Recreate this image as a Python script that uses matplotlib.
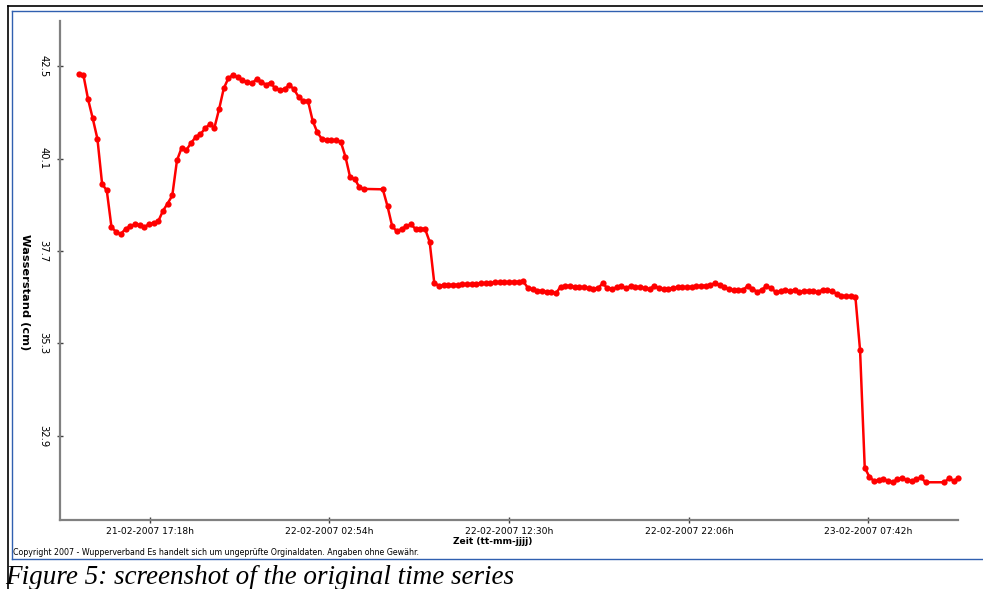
import numpy as np
import pandas as pd
import matplotlib
matplotlib.use("Agg")
import matplotlib.pyplot as plt
from matplotlib.lines import Line2D
from datetime import datetime

# ---------------- data ----------------
start_time = "2007-02-21 13:30"
step = "15min"
nan = np.nan
seg_a = [42.29, 42.27, 41.64, 41.14, 40.61, 39.44, 39.27, 38.32, 38.19, 38.14,
         38.27, 38.34, 38.39, 38.37, 38.32, 38.39, 38.43, 38.47, 38.74, 38.93,
         39.14, 40.05, 40.38, 40.32, 40.50, 40.66, 40.73, 40.88, 40.99, 40.90,
         41.38, 41.92, 42.19, 42.27, 42.21, 42.14, 42.08, 42.05, 42.16, 42.09,
         42.02, 42.07, 41.92, 41.89, 41.90, 42.01, 41.90, 41.70, 41.59, 41.60,
         41.08, 40.78, 40.60, 40.59, 40.58, 40.57, 40.54, 40.15, 39.62, 39.57,
         39.35, 39.31]
gap_1 = [nan, nan, nan]
seg_b = [39.30, 38.86, 38.34, 38.21, 38.27, 38.34, 38.39, 38.27, 38.27, 38.28, 37.94]
seg_c = [36.86, 36.80, 36.81, 36.81, 36.82, 36.82, 36.83, 36.84, 36.84, 36.85,
         36.86, 36.86, 36.87, 36.88, 36.88, 36.89, 36.89, 36.90, 36.90, 36.91]
seg_d = [36.74, 36.70, 36.67, 36.66, 36.64, 36.63, 36.60, 36.77, 36.79, 36.79,
         36.77, 36.76, 36.75, 36.73, 36.72, 36.73, 36.86, 36.73, 36.72, 36.75,
         36.79, 36.73, 36.79, 36.77, 36.75, 36.74, 36.70, 36.80, 36.73, 36.71,
         36.72, 36.74, 36.75, 36.75, 36.76, 36.77, 36.78, 36.79, 36.80, 36.82,
         36.86, 36.81, 36.75, 36.71, 36.68, 36.68, 36.69, 36.79, 36.71, 36.64,
         36.69, 36.79, 36.73, 36.63, 36.65, 36.69, 36.65, 36.69, 36.63, 36.66,
         36.66, 36.65, 36.63, 36.69, 36.68, 36.65, 36.59, 36.54, 36.52, 36.52,
         36.51]
seg_e = [35.12, 32.07, 31.83, 31.72, 31.75, 31.78, 31.72, 31.69, 31.77, 31.80,
         31.75, 31.72, 31.77, 31.82, 31.69]
gap_2 = [nan, nan, nan]
seg_f = [31.69, 31.79, 31.73, 31.79]

values = seg_a + gap_1 + seg_b + seg_c + seg_d + seg_e + gap_2 + seg_f

y_ticks = [42.5, 40.1, 37.7, 35.3, 32.9]
y_ticklabels = ["42.5", "40.1", "37.7", "35.3", "32.9"]
x_ticklabels = ["21-02-2007 17:18h", "22-02-2007 02:54h", "22-02-2007 12:30h",
                "22-02-2007 22:06h", "23-02-2007 07:42h"]
x_range = ["2007-02-21 12:30", "2007-02-23 12:29"]
y_range = [30.71, 43.68]

# ---------------- figure ----------------
W, H = 983, 589
fig = plt.figure(figsize=(W / 100, H / 100), dpi=100)
fig.patch.set_facecolor("white")

def fx(px):
    return px / W

def fy(py):
    return 1 - py / H

ax = fig.add_axes([fx(60), fy(520), fx(958) - fx(60), fy(20.7) - fy(520)])

times = pd.date_range(start_time, periods=len(values), freq=step)
ser = pd.Series(values, index=times).dropna()
ax.plot(ser.index, ser.values, color="#ff0000", lw=1.8, marker="o",
        markersize=4.5, markeredgewidth=0, clip_on=False, zorder=3)

ax.set_xlim(pd.Timestamp(x_range[0]), pd.Timestamp(x_range[1]))
ax.set_ylim(*y_range)

xt = [datetime.strptime(s, "%d-%m-%Y %H:%Mh") for s in x_ticklabels]
ax.set_xticks(xt)
ax.set_xticklabels(x_ticklabels, fontsize=6.6, family="DejaVu Sans")
ax.set_yticks(y_ticks)
ax.set_yticklabels(y_ticklabels, fontsize=7.2, family="DejaVu Sans",
                   rotation=-90, va="center", ha="center")

for s in ["top", "right"]:
    ax.spines[s].set_visible(False)
for s in ["left", "bottom"]:
    ax.spines[s].set_color("#808080")
    ax.spines[s].set_linewidth(1.6)
ax.tick_params(axis="both", direction="inout", length=4, width=1,
               color="#404040", labelcolor="black")
ax.tick_params(axis="x", pad=3)
ax.tick_params(axis="y", pad=10)

fig.text(fx(25), fy(292), "Wasserstand (cm)", rotation=-90, ha="center",
         va="center", fontsize=8.2, fontweight="bold", family="DejaVu Sans")
fig.text(fx(493), fy(541), "Zeit (tt-mm-jjjj)", ha="center", va="center",
         fontsize=6.6, fontweight="bold", family="DejaVu Sans")
fig.text(fx(13), fy(552.5),
         "Copyright 2007 - Wupperverband Es handelt sich um ungeprüfte Orginaldaten. Angaben ohne Gewähr.",
         ha="left", va="center", fontsize=5.65, family="DejaVu Sans")
fig.text(fx(5), fy(577), "Figure 5: screenshot of the original time series",
         ha="left", va="center", fontsize=19.5, style="italic",
         family="Liberation Serif")

# frame lines
black = "#000000"
blue = "#3060b0"
fig.add_artist(Line2D([fx(7.5), fx(7.5)], [fy(6), fy(589)], color=black, lw=1.2))
fig.add_artist(Line2D([fx(7.5), fx(983)], [fy(6.3), fy(6.3)], color=black, lw=1.2))
fig.add_artist(Line2D([fx(12.3), fx(12.3)], [fy(10.7), fy(558.5)], color=blue, lw=1))
fig.add_artist(Line2D([fx(12.3), fx(983)], [fy(10.7), fy(10.7)], color=blue, lw=1))
fig.add_artist(Line2D([fx(12.3), fx(983)], [fy(558.5), fy(558.5)], color=blue, lw=1))

fig.savefig("out.png", dpi=100)
